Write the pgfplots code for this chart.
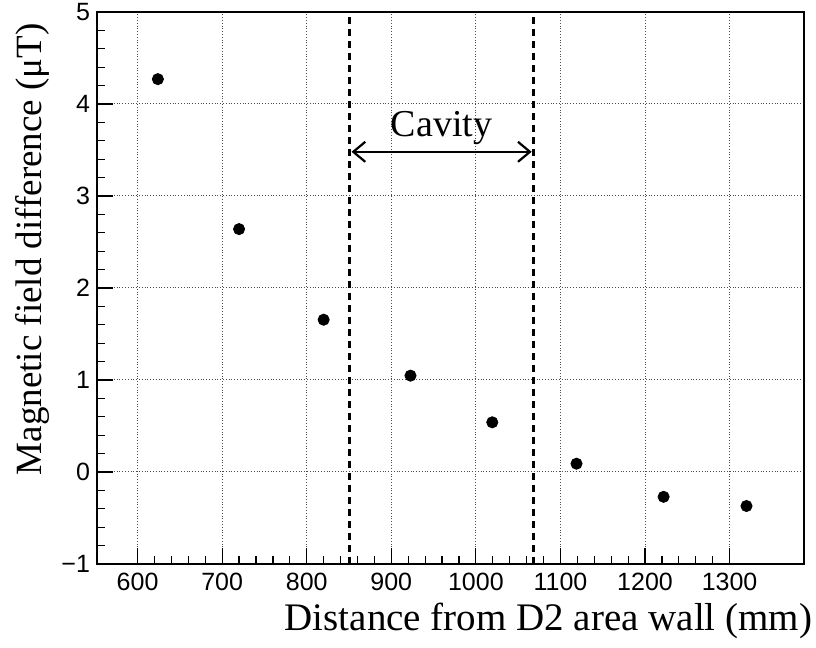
\documentclass[border=0pt]{standalone}
\usepackage{fontspec}
\setmainfont{Liberation Serif}
\setsansfont{Liberation Sans}
\usepackage{pgfplots}
\pgfplotsset{compat=1.18}
\usetikzlibrary{arrows.meta}

\begin{document}
\begin{tikzpicture}
\begin{axis}[
  scale only axis,
  width=353.5pt, height=276pt,
  xmin=552, xmax=1388, ymin=-1, ymax=5,
  axis line style={line width=0.6pt},
  xtick={600,700,...,1300},
  ytick={-1,0,...,5},
  yticklabels={−1,0,1,2,3,4,5},
  minor x tick num=4, minor y tick num=4,
  tick align=inside,
  xtick pos=bottom, ytick pos=left,
  major tick length=8pt, minor tick length=4pt,
  grid=major,
  major grid style={densely dotted, black!70, line width=0.5pt},
  tick style={black, line width=0.6pt},
  ticklabel style={font=\sffamily\fontsize{12.5}{14}\selectfont},
  xticklabel style={yshift=-1pt},
  /pgf/number format/assume math mode=true,
  /pgf/number format/set thousands separator={},
  xlabel={Distance from D2 area wall (mm)},
  ylabel={Magnetic field difference (μT)},
  xlabel style={font=\fontsize{19.5}{21}\selectfont, at={(axis description cs:1.012,-0.121)}, anchor=base east, inner sep=0pt},
  ylabel style={font=\fontsize{18.5}{20}\selectfont, at={(axis description cs:-0.079,0.98)}, anchor=base east, inner sep=0pt},
  clip=false,
]
% cavity boundaries
\addplot[black, line width=1.4pt, dash pattern=on 3.5pt off 2.5pt] coordinates {(851,-1) (851,5)};
\addplot[black, line width=1.4pt, dash pattern=on 3.5pt off 2.5pt] coordinates {(1068,-1) (1068,5)};
% cavity span
\addplot[black, line width=1.1pt, {Straight Barb[length=6pt,width=10pt,line width=1.1pt]}-{Straight Barb[length=6pt,width=10pt,line width=1.1pt]}] coordinates {(853,3.48) (1066,3.48)};
\node[font=\fontsize{19}{21}\selectfont, anchor=base] at (axis cs:959.5,3.65) {Cavity};
% measured field difference
\addplot[only marks, mark=*, mark size=2.8pt, black] coordinates {
  (624,4.27) (720,2.64) (820,1.655) (922.7,1.047)
  (1019.4,0.54) (1119,0.09) (1222,-0.27) (1320,-0.37)};
\end{axis}
\pgfresetboundingbox
\path ([shift={(-48.5pt,-42pt)}]current axis.south west) rectangle ([shift={(6pt,6pt)}]current axis.north east);
\end{tikzpicture}
\end{document}
